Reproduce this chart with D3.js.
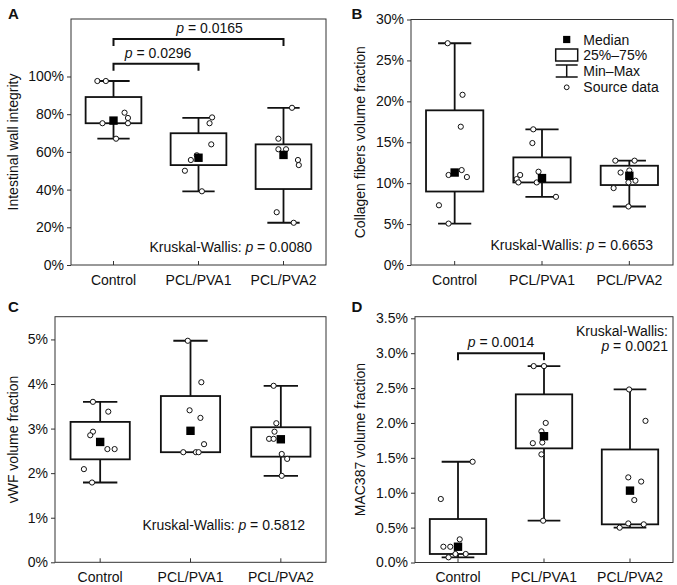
<!DOCTYPE html>
<html><head><meta charset="utf-8">
<script src="https://cdn.jsdelivr.net/npm/d3@7"></script>
<style>
body{margin:0;background:#fff}
text{font-family:"Liberation Sans",Arial,sans-serif;fill:#111}
</style>
</head><body>
<svg id="chart" width="677" height="585"></svg>
<script>
// ---------- DATA ----------
const categories = ["Control", "PCL/PVA1", "PCL/PVA2"];

// stats per group: [min, q1, median, q3, max]
const statsA = [[0.670, 0.752, 0.766, 0.891, 0.976], [0.391, 0.530, 0.569, 0.699, 0.780], [0.224, 0.403, 0.584, 0.640, 0.834]];
const pointsA = [[0.976, 0.976, 0.752, 0.808, 0.780, 0.752, 0.670, 0.766],
                 [0.783, 0.752, 0.640, 0.582, 0.557, 0.500, 0.391, 0.569],
                 [0.834, 0.670, 0.614, 0.614, 0.557, 0.530, 0.280, 0.224]];
const jitterA = [[-0.19, -0.09, -0.13, 0.13, 0.17, 0.17, 0.03, 0],
                 [0.16, 0.13, 0.15, -0.02, -0.09, -0.16, 0.04, 0],
                 [0.10, -0.06, -0.06, 0.03, 0.17, 0.18, -0.08, 0.12]];
const ticksA = [0, 0.2, 0.4, 0.6, 0.8, 1.0];

const statsB = [[0.0506, 0.0898, 0.113, 0.189, 0.271], [0.0833, 0.1009, 0.1062, 0.1315, 0.1658], [0.0715, 0.0977, 0.109, 0.1213, 0.1275]];
const pointsB = [[0.271, 0.208, 0.169, 0.110, 0.116, 0.1075, 0.073, 0.0506],
                 [0.1658, 0.149, 0.110, 0.114, 0.105, 0.1009, 0.1009, 0.0833],
                 [0.1275, 0.1275, 0.113, 0.1155, 0.103, 0.101, 0.094, 0.0715]];
const jitterB = [[-0.08, 0.09, 0.07, -0.07, 0.08, 0.14, -0.18, -0.07],
                 [-0.10, -0.11, -0.25, -0.04, -0.29, -0.27, -0.06, 0.16],
                 [-0.16, 0.06, -0.10, 0, 0.07, -0.01, -0.18, -0.01]];
const ticksB = [0, 0.05, 0.10, 0.15, 0.20, 0.25, 0.30];

const statsC = [[0.0179, 0.0231, 0.0270, 0.0315, 0.0360], [0.0247, 0.0247, 0.0295, 0.0373, 0.0497], [0.0194, 0.0237, 0.0276, 0.0303, 0.0396]];
const pointsC = [[0.0360, 0.0338, 0.0293, 0.0285, 0.0254, 0.0254, 0.0209, 0.0179],
                 [0.0497, 0.0404, 0.0341, 0.0324, 0.0265, 0.0247, 0.0247, 0.0247],
                 [0.0396, 0.0312, 0.0293, 0.0277, 0.0277, 0.0243, 0.0232, 0.0194]];
const jitterC = [[-0.08, 0.09, -0.08, -0.11, 0.08, 0.16, -0.18, -0.09],
                 [-0.03, 0.12, -0.01, 0.11, 0.15, -0.08, 0.06, 0.09],
                 [-0.08, -0.05, -0.07, -0.13, -0.08, 0.01, 0.07, 0.01]];
const ticksC = [0, 0.01, 0.02, 0.03, 0.04, 0.05];

const statsD = [[0.00074, 0.00122, 0.00226, 0.00623, 0.01444], [0.00599, 0.01636, 0.0181, 0.0241, 0.02815], [0.00499, 0.00547, 0.0103, 0.0162, 0.0248]];
const pointsD = [[0.01444, 0.0091, 0.00332, 0.00226, 0.00226, 0.00122, 0.00122, 0.00074],
                 [0.02815, 0.02815, 0.0200, 0.0188, 0.0171, 0.0172, 0.0155, 0.00599],
                 [0.0248, 0.0203, 0.0122, 0.0116, 0.00895, 0.0056, 0.00547, 0.00499]];
const jitterD = [[0.17, -0.20, 0.02, -0.17, -0.09, -0.03, 0.09, -0.11],
                 [-0.12, 0, 0.02, -0.03, -0.13, -0.02, -0.03, -0.01],
                 [-0.01, 0.18, -0.02, 0.13, 0.05, -0.02, 0.16, -0.12]];
const ticksD = [0, 0.005, 0.010, 0.015, 0.020, 0.025, 0.030, 0.035];

// significance brackets: from group, to group, level (data units), p value
const bracketsA = [{from: "Control", to: "PCL/PVA2", level: 1.199, p: "0.0165"},
                   {from: "Control", to: "PCL/PVA1", level: 1.068, p: "0.0296"}];
const bracketsD = [{from: "Control", to: "PCL/PVA1", level: 0.0300, p: "0.0014"}];

const kwA = "0.0080", kwB = "0.6653", kwC = "0.5812", kwD = "0.0021";

const legendItems = ["Median", "25%\u201375%", "Min\u2013Max", "Source data"];

// ---------- LAYOUT ----------
const FONT = "Liberation Sans, Arial, sans-serif";
const panels = [
  {letter: "A", frame: [71, 19, 326, 265], yMax: 1.305, ticks: ticksA, fmt: ".0%", stats: statsA, points: pointsA, jitter: jitterA,
   title: "Intestinal wall integrity", titleX: 13, letterPos: [8, 18.5], kw: kwA, kwPos: {dx: -14, dy: -13.5, mode: "bottom"}, brackets: bracketsA, bracketDx: [11, 2]},
  {letter: "B", frame: [411, 19.5, 673, 265], yMax: 0.30, ticks: ticksB, fmt: ".0%", stats: statsB, points: pointsB, jitter: jitterB,
   title: "Collagen fibers volume fraction", titleX: 360, letterPos: [351.5, 18.5], kw: kwB, kwPos: {dx: -20, dy: -15.5, mode: "bottom"}, brackets: [], legend: true},
  {letter: "C", frame: [55, 316.7, 326, 562.3], yMax: 0.0551, ticks: ticksC, fmt: ".0%", stats: statsC, points: pointsC, jitter: jitterC,
   title: "vWF volume fraction", titleX: 13, letterPos: [8, 311.7], kw: kwC, kwPos: {dx: -21, dy: -32, mode: "bottom"}, brackets: []},
  {letter: "D", frame: [415, 316.7, 673, 562.5], yMax: 0.03523, ticks: ticksD, fmt: ".1%", stats: statsD, points: pointsD, jitter: jitterD,
   title: "MAC387 volume fraction", titleX: 360, letterPos: [351.5, 311.7], kw: kwD, kwPos: {dx: -5, dy: 19, mode: "top"}, brackets: bracketsD, bracketDx: [0]}
];

const svg = d3.select("#chart");
const FS = 14;

function pText(sel, pre, val) {
  if (pre) sel.append("tspan").text(pre);
  sel.append("tspan").attr("font-style", "italic").text("p");
  sel.append("tspan").text(" = " + val);
}

panels.forEach(P => {
  const [L, T, R, B] = P.frame;
  const x = d3.scaleBand().domain(categories).range([L, R]).padding(0);
  const y = d3.scaleLinear().domain([0, P.yMax]).range([B, T]);
  const bw = x.bandwidth();
  const cx = c => x(c) + bw / 2;
  const g = svg.append("g");

  // frame
  g.append("rect").attr("x", L).attr("y", T).attr("width", R - L).attr("height", B - T)
    .attr("fill", "none").attr("stroke", "#333").attr("stroke-width", 1);

  // y axis
  const ya = g.append("g").attr("transform", `translate(${L},0)`)
    .call(d3.axisLeft(y).tickValues(P.ticks).tickFormat(d3.format(P.fmt)).tickSize(4).tickPadding(3));
  ya.attr("font-family", FONT).attr("font-size", FS);
  ya.select(".domain").remove();
  ya.selectAll("text").attr("fill", "#111");
  ya.selectAll("line").attr("stroke", "#333");

  // x axis
  const xa = g.append("g").attr("transform", `translate(0,${B})`)
    .call(d3.axisBottom(x).tickSize(-4).tickPadding(10));
  xa.attr("font-family", FONT).attr("font-size", FS);
  xa.select(".domain").remove();
  xa.selectAll("text").attr("fill", "#111");
  xa.selectAll("line").attr("stroke", "#333");

  // y title
  g.append("text").attr("transform", `translate(${P.titleX},${(T + B) / 2}) rotate(-90)`)
    .attr("text-anchor", "middle").attr("dominant-baseline", "central").attr("font-size", FS).text(P.title);

  // panel letter
  g.append("text").attr("x", P.letterPos[0]).attr("y", P.letterPos[1]).attr("font-size", 15).attr("font-weight", "bold").text(P.letter);

  const boxHalf = bw * 0.328, capHalf = bw * 0.19;
  categories.forEach((c, i) => {
    const [mn, q1, md, q3, mx] = P.stats[i];
    const xc = cx(c);
    const bg = g.append("g").attr("stroke", "#111").attr("stroke-width", 1.8);
    bg.append("line").attr("x1", xc).attr("x2", xc).attr("y1", y(mx)).attr("y2", y(mn));
    bg.append("line").attr("x1", xc - capHalf).attr("x2", xc + capHalf).attr("y1", y(mx)).attr("y2", y(mx));
    bg.append("line").attr("x1", xc - capHalf).attr("x2", xc + capHalf).attr("y1", y(mn)).attr("y2", y(mn));
    bg.append("rect").attr("x", xc - boxHalf).attr("y", y(q3)).attr("width", boxHalf * 2).attr("height", y(q1) - y(q3))
      .attr("fill", "#fff");
    // points
    g.selectAll(null).data(P.points[i].map((v, j) => ({v, j: P.jitter[i][j]}))).enter().append("circle")
      .attr("cx", d => xc + d.j * bw).attr("cy", d => y(d.v)).attr("r", 2.6)
      .attr("fill", "#fff").attr("stroke", "#111").attr("stroke-width", 1);
    // median
    g.append("rect").attr("x", xc - 4.2).attr("y", y(md) - 4.2).attr("width", 8.4).attr("height", 8.4).attr("fill", "#000");
  });

  // brackets
  P.brackets.forEach((b, k) => {
    const x1 = cx(b.from), x2 = cx(b.to), yy = y(b.level);
    g.append("path").attr("d", `M${x1},${yy + 7}V${yy}H${x2}V${yy + 7}`)
      .attr("fill", "none").attr("stroke", "#111").attr("stroke-width", 2);
    const t = g.append("text").attr("x", (x1 + x2) / 2 + P.bracketDx[k]).attr("y", yy - 6)
      .attr("text-anchor", "middle").attr("font-size", FS);
    pText(t, "", b.p);
  });

  // Kruskal-Wallis
  if (P.kwPos.mode === "bottom") {
    const t = g.append("text").attr("x", R + P.kwPos.dx).attr("y", B + P.kwPos.dy).attr("text-anchor", "end").attr("font-size", FS);
    pText(t, "Kruskal-Wallis: ", P.kw);
  } else {
    g.append("text").attr("x", R + P.kwPos.dx).attr("y", T + P.kwPos.dy).attr("text-anchor", "end").attr("font-size", FS).text("Kruskal-Wallis:");
    const t = g.append("text").attr("x", R + P.kwPos.dx).attr("y", T + P.kwPos.dy + 15).attr("text-anchor", "end").attr("font-size", FS);
    pText(t, "", P.kw);
  }

  // legend
  if (P.legend) {
    const lx = 566.7, tx = 583.3;
    const rows = [39.5, 55, 71, 87.3];
    const lg = g.append("g");
    lg.append("rect").attr("x", lx - 3.6).attr("y", rows[0] - 3.6).attr("width", 7.2).attr("height", 7.2).attr("fill", "#000");
    lg.append("rect").attr("x", lx - 11).attr("y", rows[1] - 6).attr("width", 22).attr("height", 12)
      .attr("fill", "#fff").attr("stroke", "#111").attr("stroke-width", 1.5);
    lg.append("path").attr("d", `M${lx - 11},${rows[2] - 6}H${lx + 11}M${lx},${rows[2] - 6}V${rows[2] + 6}M${lx - 11},${rows[2] + 6}H${lx + 11}`)
      .attr("fill", "none").attr("stroke", "#111").attr("stroke-width", 1.5);
    lg.append("circle").attr("cx", lx).attr("cy", rows[3]).attr("r", 2.4).attr("fill", "#fff").attr("stroke", "#111").attr("stroke-width", 1);
    legendItems.forEach((s, k) => {
      lg.append("text").attr("x", tx).attr("y", rows[k]).attr("dy", "0.36em").attr("font-size", FS).text(s);
    });
  }
});
</script>
</body></html>
